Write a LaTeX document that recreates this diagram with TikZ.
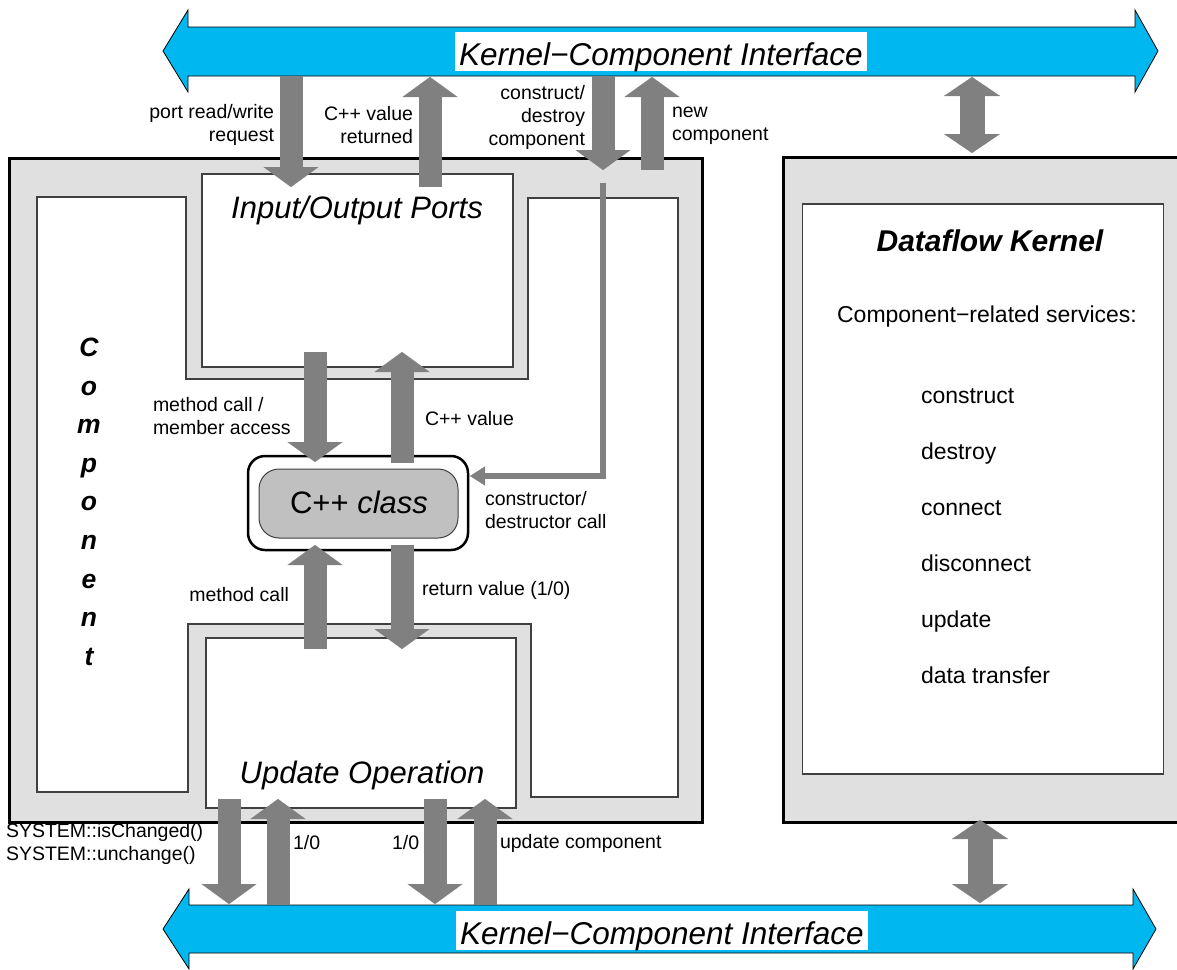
\documentclass[tikz,border=0pt]{standalone}
\usepackage{fontspec}
\setmainfont{Liberation Sans}
\usetikzlibrary{arrows.meta}

\definecolor{ifaceblue}{HTML}{00B7F0}
\definecolor{arrowgray}{HTML}{808080}
\definecolor{bandgray}{HTML}{E0E0E0}
\definecolor{classgray}{HTML}{C0C0C0}
\definecolor{edgegray}{HTML}{404040}

\begin{document}
\begin{tikzpicture}[x=1pt,y=-1pt,
  every node/.style={inner sep=0pt, outer sep=0pt},
  lbl/.style={font=\fontsize{19.5}{23}\selectfont},
  titletext/.style={font=\fontsize{31}{36}\selectfont\itshape},
  svc/.style={font=\fontsize{23}{27}\selectfont},
  frame/.style={draw=black, line width=3pt, fill=bandgray},
  thinedge/.style={draw=edgegray, line width=1.2pt},
  whitebox/.style={thinedge, fill=white},
  iface/.style={draw=black, line width=0.8pt, fill=ifaceblue, line join=miter},
  ifacelabel/.style={fill=white, minimum width=412pt, minimum height=39pt,
    text height=33pt, text depth=6pt, font=\fontsize{31.5}{36}\selectfont\itshape},
  fat/.style={draw=arrowgray, line width=23pt,
    -{Triangle[length=20pt,width=55pt,line width=0.1pt]}},
  fatboth/.style={draw=arrowgray, line width=25pt,
    {Triangle[length=19pt,width=56pt,line width=0.1pt]}-{Triangle[length=19pt,width=56pt,line width=0.1pt]}},
  thinarrow/.style={draw=arrowgray, line width=6pt, line join=miter,
    -{Triangle[length=15pt,width=19pt,line width=0.1pt]}}
]
\useasboundingbox (0,0) rectangle (1177,969);
\clip (0,0) rectangle (1177,969);

% ---------- interface bands ----------
\draw[iface] (163,51) -- (188,10) -- (188,27) -- (1135,27) -- (1135,10) -- (1158,51)
  -- (1135,92) -- (1135,76) -- (188,76) -- (188,92) -- cycle;
\node[ifacelabel] (ifTop) at (661,51.5) {Kernel−Component Interface};

\draw[iface] (163,929) -- (189,889) -- (189,905) -- (1133,905) -- (1133,889) -- (1156,929)
  -- (1133,969) -- (1133,953) -- (189,953) -- (189,969) -- cycle;
\node[ifacelabel] (ifBot) at (662,930.5) {Kernel−Component Interface};

% ---------- component ----------
\node[frame, minimum width=693pt, minimum height=664pt] (comp) at (355.5,490) {};
\draw[whitebox] (37,197) -- (186,197) -- (186,379) -- (528,379) -- (528,198) -- (678,198)
  -- (678,797) -- (531,797) -- (531,624) -- (188,624) -- (188,792) -- (37,792) -- cycle;
\node[whitebox, minimum width=311pt, minimum height=193pt] (io) at (357.5,270.5) {};
\node[whitebox, minimum width=310pt, minimum height=170pt] (upd) at (361,723) {};

\node[titletext, anchor=base] (ioT) at (357,218) {Input/Output Ports};
\node[titletext, anchor=base] (updT) at (362,783) {Update Operation};

\node[font=\fontsize{26.5}{38.6}\selectfont\bfseries\itshape, align=center, anchor=north]
  (compT) at (89,338) {C\\o\\m\\p\\o\\n\\e\\n\\t};

% C++ class
\node[draw=black, line width=2.5pt, fill=white, rounded corners=17pt,
  minimum width=220pt, minimum height=94pt] (cls) at (358,503) {};
\node[draw=edgegray, line width=1pt, fill=classgray, rounded corners=20pt,
  minimum width=199pt, minimum height=69pt] (clsIn) at (358.5,503.5) {};
\node[font=\fontsize{31}{36}\selectfont, anchor=base] (clsT) at (359,513) {C++ \textit{class}};

% ---------- kernel ----------
\node[frame, minimum width=412pt, minimum height=665pt] (kern) at (989,489.5) {};
\node[whitebox, minimum width=361pt, minimum height=570pt] (kernIn) at (983,489) {};
\node[font=\fontsize{30}{36}\selectfont\bfseries\itshape, anchor=base] (kernT) at (990,251)
  {Dataflow Kernel};
\node[svc, anchor=base] (svcT) at (987,322) {Component−related services:};
\node[svc, anchor=base west] (s1) at (921,403) {construct};
\node[svc, anchor=base west] (s2) at (921,459) {destroy};
\node[svc, anchor=base west] (s3) at (921,515) {connect};
\node[svc, anchor=base west] (s4) at (921,571) {disconnect};
\node[svc, anchor=base west] (s5) at (921,627) {update};
\node[svc, anchor=base west] (s6) at (921,683) {data transfer};

% ---------- arrow end points ----------
\coordinate (portA) at (291,76);   \coordinate (portB) at (291,187);
\coordinate (retA)  at (430,187);  \coordinate (retB)  at (430,77);
\coordinate (consA) at (603,76);   \coordinate (consB) at (603,170);
\coordinate (newA)  at (652,170);  \coordinate (newB)  at (652,77);
\coordinate (mcA)   at (315,352);  \coordinate (mcB)   at (315,462);
\coordinate (valA)  at (402,463);  \coordinate (valB)  at (402,352);
\coordinate (upA)   at (315,649);  \coordinate (upB)   at (315,545);
\coordinate (rvA)   at (402,545);  \coordinate (rvB)   at (402,649);
\coordinate (b1A)   at (229,799);  \coordinate (b1B)   at (229,904);
\coordinate (b2A)   at (278,905);  \coordinate (b2B)   at (278,799);
\coordinate (b3A)   at (435,799);  \coordinate (b3B)   at (435,904);
\coordinate (b4A)   at (485,905);  \coordinate (b4B)   at (485,799);
\coordinate (ktA)   at (972,77);   \coordinate (ktB)   at (972,153);
\coordinate (kbA)   at (980,820);  \coordinate (kbB)   at (980,903);
\coordinate (ctorA) at (603,183);  \coordinate (ctorB) at (470,476);

% ---------- arrows ----------
\draw[fat] (portA) -- (portB);
\draw[fat] (retA) -- (retB);
\draw[fat] (consA) -- (consB);
\draw[fat] (newA) -- (newB);
\draw[fat] (mcA) -- (mcB);
\draw[fat] (valA) -- (valB);
\draw[fat] (upA) -- (upB);
\draw[fat] (rvA) -- (rvB);
\draw[fat] (b1A) -- (b1B);
\draw[fat] (b2A) -- (b2B);
\draw[fat] (b3A) -- (b3B);
\draw[fat] (b4A) -- (b4B);
\draw[fatboth] (ktA) -- (ktB);
\draw[fatboth] (kbA) -- (kbB);
\draw[thinarrow] (ctorA) |- (ctorB);

% ---------- labels ----------
\node[lbl, align=right, anchor=east] (lPort) at (274,125) {port read/write\\request};
\node[lbl, align=right, anchor=east] (lRet) at (413,125) {C++ value\\returned};
\node[lbl, align=right, anchor=east] (lCons) at (585,117) {construct/\\destroy\\component};
\node[lbl, align=left, anchor=west] (lNew) at (672,126) {new\\component};
\node[lbl, align=left, anchor=west] (lMc) at (153,416) {method call /\\member access};
\node[lbl, anchor=west] (lVal) at (425,419) {C++ value};
\node[lbl, align=left, anchor=west] (lCtor) at (485,510) {constructor/\\destructor call};
\node[lbl, anchor=east] (lUp) at (289,595) {method call};
\node[lbl, anchor=west] (lRv) at (422,590) {return value (1/0)};
\node[lbl, align=left, anchor=west] (lSys) at (6,844) {SYSTEM::isChanged()\\SYSTEM::unchange()};
\node[lbl, anchor=west] (l10a) at (293,843) {1/0};
\node[lbl, anchor=west] (l10b) at (392,843) {1/0};
\node[lbl, anchor=west] (lUpd) at (500,843) {update component};
\end{tikzpicture}
\end{document}
